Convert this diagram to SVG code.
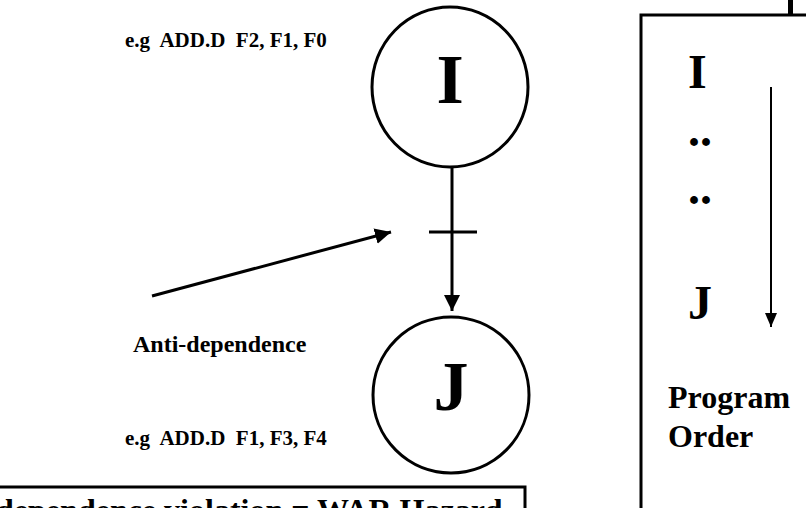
<svg xmlns="http://www.w3.org/2000/svg" width="806" height="508" viewBox="0 0 806 508">
<defs>
<style>
.t{font-family:"Liberation Serif","Times New Roman",serif;font-weight:bold;fill:#000;white-space:pre}
.node{fill:#fff;stroke:#000;stroke-width:3}
.ln{stroke:#000;fill:none}
</style>
<marker id="ah" markerUnits="userSpaceOnUse" markerWidth="16" markerHeight="16" viewBox="0 0 16 16" refX="16" refY="8" orient="auto">
<path d="M0,0 L16,8 L0,16 Z" fill="#000"/>
</marker>
<marker id="ahs" markerUnits="userSpaceOnUse" markerWidth="14" markerHeight="12" viewBox="0 0 14 12" refX="14" refY="6" orient="auto">
<path d="M0,0 L14,6 L0,12 Z" fill="#000"/>
</marker>
</defs>
<rect width="806" height="508" fill="#fff"/>

<g id="program-order">
<rect x="641" y="15" width="200" height="600" fill="none" stroke="#000" stroke-width="3"/>
<line x1="790.5" y1="0" x2="790.5" y2="15" stroke="#000" stroke-width="5"/>
<text class="t" x="688" y="88" font-size="48">I</text>
<text class="t" x="688" y="146" font-size="48">..</text>
<text class="t" x="688" y="204" font-size="48">..</text>
<text class="t" x="688" y="319" font-size="48">J</text>
<line class="ln" x1="771" y1="87" x2="771" y2="327" stroke-width="2" marker-end="url(#ahs)"/>
<text class="t" x="668" y="408" font-size="32">Program</text>
<text class="t" x="668" y="447" font-size="32">Order</text>
</g>

<g id="connectors">
<line class="ln" x1="452" y1="168" x2="452" y2="311" stroke-width="3" marker-end="url(#ah)"/>
<line class="ln" x1="429" y1="232" x2="477" y2="232" stroke-width="3"/>
<line class="ln" x1="152" y1="296" x2="391" y2="232" stroke-width="3" marker-end="url(#ah)"/>
</g>

<g id="node-I">
<ellipse class="node" cx="450" cy="87" rx="78" ry="80"/>
<text class="t" x="450" y="103" font-size="70" text-anchor="middle">I</text>
</g>
<text class="t" x="125" y="47" font-size="21">e.g  ADD.D  F2, F1, F0</text>

<text id="label-anti" class="t" x="133" y="352" font-size="24">Anti-dependence</text>

<g id="node-J">
<ellipse class="node" cx="451" cy="395" rx="78" ry="78"/>
<text class="t" x="451" y="410" font-size="70" text-anchor="middle">J</text>
</g>
<text class="t" x="125" y="445" font-size="21">e.g  ADD.D  F1, F3, F4</text>

<g id="hazard-box">
<rect x="-20" y="487" width="545" height="80" fill="none" stroke="#000" stroke-width="3"/>
<text class="t" x="-75" y="521" font-size="32">Anti-dependence violation = WAR Hazard</text>
</g>
</svg>
